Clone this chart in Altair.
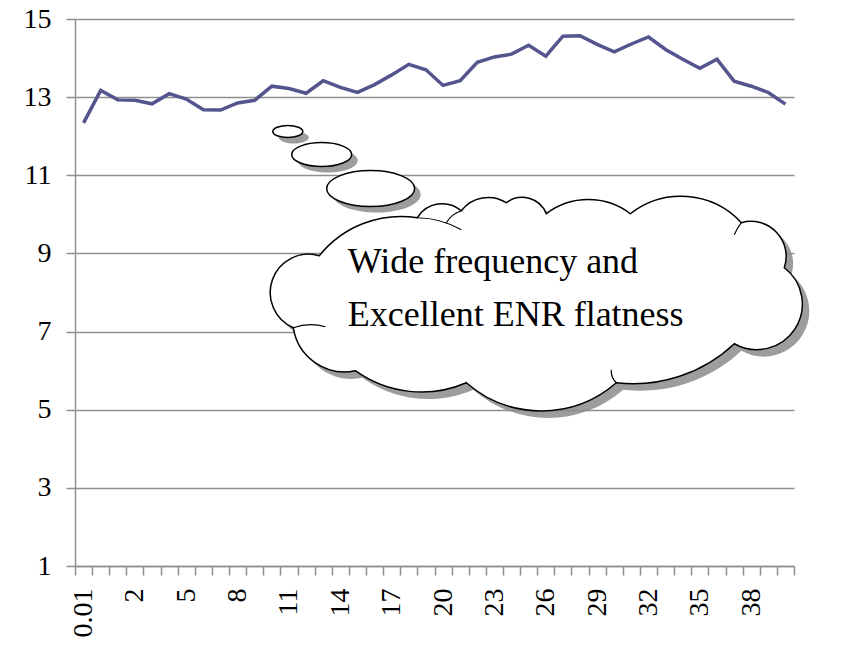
import json
import math
import altair as alt
import pandas as pd

# ---------------- data ----------------
categories = ["0.01", "0.5", "1"] + [str(v) for v in range(2, 41)]
enr = [12.34, 13.17, 12.93, 12.92, 12.83, 13.09, 12.95, 12.68, 12.67, 12.85,
       12.92, 13.28, 13.22, 13.10, 13.42, 13.25, 13.12, 13.32, 13.57, 13.84,
       13.70, 13.30, 13.42, 13.89, 14.03, 14.10, 14.33, 14.05, 14.56, 14.57,
       14.35, 14.16, 14.36, 14.54, 14.22, 13.97, 13.74, 13.97, 13.41, 13.28,
       13.12, 12.82]
y_ticks = [1, 3, 5, 7, 9, 11, 13, 15]
note_lines = ["Wide frequency and", "Excellent ENR flatness"]

# annotation anchors (data units: x = category index, y = value)
note_x = [15.93, 15.93]
note_y = [8.51, 7.13]
cloud_x, cloud_y = 27.0, 7.71
bubble_x = [12.43, 14.41, 17.27]
bubble_y = [12.12, 11.53, 10.66]
bubble_rx = [15, 30, 44]
bubble_ry = [6, 12, 18]

n = len(categories)
line_df = pd.DataFrame({"pos": [i + 0.5 for i in range(n)], "enr": enr,
                        "cat": categories})

# ---------------- cloud shape (style) ----------------
CX, CY = 537.9, 303.1  # pixel centre matching anchor


def arc_through(a, p, b):
    ax, ay = a
    px, py = p
    bx, by = b
    d = 2 * (ax * (py - by) + px * (by - ay) + bx * (ay - py))
    ux = ((ax**2 + ay**2) * (py - by) + (px**2 + py**2) * (by - ay) + (bx**2 + by**2) * (ay - py)) / d
    uy = ((ax**2 + ay**2) * (bx - px) + (px**2 + py**2) * (ax - bx) + (bx**2 + by**2) * (px - ax)) / d
    r = math.hypot(ax - ux, ay - uy)
    cross = (px - ax) * (by - py) - (py - ay) * (bx - px)
    sweep = 1 if cross > 0 else 0

    def side(qx, qy):
        return (bx - ax) * (qy - ay) - (by - ay) * (qx - ax)
    large = 1 if side(ux, uy) * side(px, py) > 0 else 0
    return f"A {r:.2f} {r:.2f} 0 {large} {sweep} {bx - CX:.2f} {by - CY:.2f}"


lobes = [
    ((320, 255), (271, 295), (294, 327)),
    ((294, 327), (305, 352), (356, 370)),
    ((356, 370), (405, 390), (467, 382)),
    ((467, 382), (548, 410), (617, 382)),
    ((617, 382), (690, 372), (735, 343)),
    ((735, 343), (803, 302), (785, 267)),
    ((785, 267), (782, 238), (742, 222)),
    ((742, 222), (690, 196), (631, 213)),
    ((631, 213), (585, 199), (547, 213)),
    ((547, 213), (527, 197), (507, 202)),
    ((507, 202), (485, 197), (462, 210)),
    ((462, 210), (442, 203), (418, 217)),
    ((418, 217), (372, 220), (320, 255)),
]
cloud_path = f"M {lobes[0][0][0] - CX:.2f} {lobes[0][0][1] - CY:.2f} " + " ".join(
    arc_through(*l) for l in lobes) + " Z"

inner = [
    ((418, 217), (440, 220), (462, 229)),
    ((462, 210), (453, 215), (447, 222)),
    ((294, 327), (310, 324), (326, 326)),
    ((617, 382), (613, 376), (612, 369)),
    ((742, 222), (738, 228), (735, 234)),
]
inner_path = " ".join(
    f"M {a[0] - CX:.2f} {a[1] - CY:.2f} " + arc_through(a, p, b) for a, p, b in inner)


def ellipse(rx, ry):
    return (f"M {-rx} 0 A {rx} {ry} 0 1 0 {rx} 0 "
            f"A {rx} {ry} 0 1 0 {-rx} 0 Z")


# ---------------- chart ----------------
FONT = "Liberation Serif"
GRID = "#8f8f8f"

x_scale = alt.Scale(domain=[0, n], nice=False, zero=False)
y_scale = alt.Scale(domain=[1, 15], nice=False, zero=False)

label_expr = (f"(datum.value % 3 == 0 && datum.value < {n}) ? "
              f"{json.dumps(categories)}[datum.value] : ''")

x_axis = alt.Axis(values=list(range(n + 1)), tickCount=n + 1,
                  labelExpr=label_expr, labelAngle=270,
                  labelFont=FONT, labelFontSize=28, labelColor="black",
                  labelPadding=13, labelOffset=8.57, labelOverlap=False,
                  labelFlush=False, labelBound=False,
                  tickSize=9, tickColor=GRID, tickWidth=1.5,
                  domainColor=GRID, domainWidth=1.5, grid=False, title=None)
y_axis = alt.Axis(values=y_ticks, tickCount=len(y_ticks), labelFont=FONT,
                  labelFontSize=28, labelColor="black", labelPadding=15,
                  tickSize=9, tickColor=GRID, tickWidth=1.5, domainColor=GRID,
                  domainWidth=1.5, grid=True, gridColor=GRID, gridWidth=1.5,
                  title=None)

line = alt.Chart(line_df).mark_line(color="#54548f", strokeWidth=3.5).encode(
    x=alt.X("pos:Q", scale=x_scale, axis=x_axis),
    y=alt.Y("enr:Q", scale=y_scale, axis=y_axis),
)

bub_df = pd.DataFrame({"x": bubble_x, "y": bubble_y,
                       "shape": [ellipse(a, b) for a, b in zip(bubble_rx, bubble_ry)]})
cloud_df = pd.DataFrame({"x": [cloud_x], "y": [cloud_y]})
note_df = pd.DataFrame({"x": note_x, "y": note_y, "t": note_lines})

enc_xy = dict(x=alt.X("x:Q", scale=x_scale), y=alt.Y("y:Q", scale=y_scale))

bub_shadow = alt.Chart(bub_df).mark_point(
    filled=True, fill="#8c8c8c", strokeWidth=0, size=4, opacity=0.85,
    xOffset=6, yOffset=6).encode(shape=alt.Shape("shape:N", scale=None), **enc_xy)
bub = alt.Chart(bub_df).mark_point(
    filled=True, fill="white", stroke="black", strokeWidth=1.5, size=4,
    opacity=1).encode(shape=alt.Shape("shape:N", scale=None), **enc_xy)

cloud_shadow = alt.Chart(cloud_df).mark_point(
    shape=cloud_path, filled=True, fill="#8c8c8c", strokeWidth=0, size=4,
    opacity=0.85, xOffset=7, yOffset=7).encode(**enc_xy)
cloud = alt.Chart(cloud_df).mark_point(
    shape=cloud_path, filled=True, fill="white", stroke="black",
    strokeWidth=1.5, size=4, opacity=1).encode(**enc_xy)
cloud_inner = alt.Chart(cloud_df).mark_point(
    shape=inner_path, filled=False, stroke="black", strokeWidth=1.2,
    size=4, opacity=1).encode(**enc_xy)

note = alt.Chart(note_df).mark_text(
    align="left", baseline="alphabetic", font=FONT, fontSize=36,
    color="black").encode(text="t:N", **enc_xy)

chart = alt.layer(line, bub_shadow, bub, cloud_shadow, cloud, cloud_inner, note).properties(
    width=719, height=547,
    autosize=alt.AutoSizeParams(type="none"),
    padding={"left": 67, "top": 11, "right": 46, "bottom": 78},
    background="white",
).configure_view(strokeWidth=0)

chart.save("out.html", embed_options={"renderer": "svg", "actions": False})
